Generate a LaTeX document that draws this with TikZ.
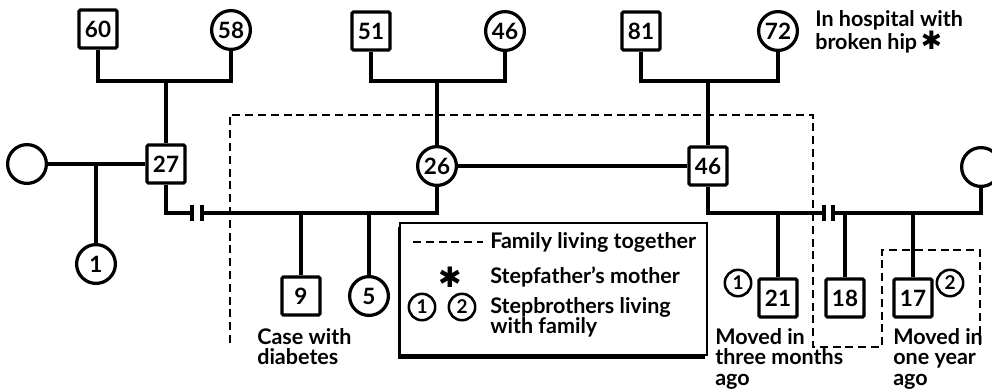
\documentclass[tikz,border=0pt]{standalone}
\usepackage{fontspec}
\setmainfont{Lato}
\newfontfamily\symfont{DejaVu Sans}
\usetikzlibrary{positioning,shadows}
\newcommand{\gfont}{\fontsize{15.3}{14.6}\selectfont\bfseries}
\newcommand{\numfont}{\fontsize{16}{16}\selectfont\bfseries}
\newcommand{\sibfont}{\fontsize{13.5}{13.5}\selectfont\bfseries}
\tikzset{
  person/.style    = {draw, line width=2.3pt, inner sep=0pt, font=\numfont},
  male/.style      = {person, rectangle, rounded corners=1pt, minimum size=0.95cm},
  female/.style    = {person, circle, minimum size=0.97cm},
  stepsib/.style   = {person, circle, minimum size=0.66cm, line width=1.8pt,
                      font=\sibfont},
  link/.style      = {line width=2.4pt},
  divmark/.style   = {line width=3pt},
  household/.style = {line width=1.9pt, dash pattern=on 0.2cm off 0.12cm},
  note/.style      = {anchor=north west, align=left, inner sep=0pt, font=\gfont},
  legtext/.style   = {anchor=west, align=left, inner sep=0pt, font=\gfont},
}
\begin{document}
\begin{tikzpicture}[x=0.025cm,y=-0.025cm]
  \useasboundingbox (0,0) rectangle (992,390);
  % grandparents
  \node[male]   (g60) at (98,29)  {60};
  \node[female] (g58) at (231,30) {58};
  \node[male]   (g51) at (371,31) {51};
  \node[female] (g46) at (505,31) {46};
  \node[male]   (g81) at (641,31) {81};
  \node[female] (g72) at (778,31) {72};
  % parents
  \node[female] (wL)  at (27,164)  {};
  \node[male]   (p27) at (166,164) {27};
  \node[female] (p26) at (437,166) {26};
  \node[male]   (p46) at (708,166) {46};
  \node[female] (wR)  at (981,167) {};
  % children
  \node[female] (s1)  at (96,264)  {1};
  \node[male]   (s9)  at (301,296) {9};
  \node[female] (s5)  at (369,296) {5};
  \node[male]   (s21) at (778,298) {21};
  \node[male]   (s18) at (845,298) {18};
  \node[male]   (s17) at (913,298) {17};
  \node[stepsib] (n1) at (738,283) {1};
  \node[stepsib] (n2) at (950,283) {2};
  % line junctions
  \coordinate (m1) at (166,81);
  \coordinate (m2) at (437,81);
  \coordinate (m3) at (708,81);
  \coordinate (d1) at (192,213);
  \coordinate (d2) at (202,213);
  \coordinate (d3) at (824,213);
  \coordinate (d4) at (833,213);
  % marriages and descent
  \draw[link] (g60.south) |- (m1) -| (g58.south);
  \draw[link] (g51.south) |- (m2) -| (g46.south);
  \draw[link] (g81.south) |- (m3) -| (g72.south);
  \draw[link] (m1) -- (p27.north);
  \draw[link] (m2) -- (p26.north);
  \draw[link] (m3) -- (p46.north);
  \draw[link] (wL) -- (p27);
  \draw[link] (s1.north) -- (s1.north |- wL);
  \draw[link] (p27.south) |- (d1);
  \draw[link] (d2) -| (p26.south);
  \draw[link] (p26) -- (p46);
  \draw[link] (p46.south) |- (d3);
  \draw[link] (d4) -| (wR.south);
  \foreach \k in {s9,s5} \draw[link] (\k.north) -- (\k.north |- d2);
  \draw[link] (s21.north) -- (s21.north |- d3);
  \foreach \k in {s18,s17} \draw[link] (\k.north) -- (\k.north |- d4);
  \foreach \d in {d1,d2,d3,d4}
    \draw[divmark] ([yshift=0.21cm]\d) -- ([yshift=-0.21cm]\d);
  % household boundary
  \draw[household] (230,343) -- (230,115) -- (813,115) -- (813,347)
    -- (882,347) -- (882,250) -- (980,250) -- (980,345);
  % notes
  \node[note] (tDiab) at (257,328) {Case with\\diabetes};
  \node[note] (tHosp) at (815,10)  {In hospital with\\broken hip\,{\symfont\fontsize{18}{14}\selectfont ✱}};
  \node[note] (t21)   at (715,328) {Moved in\\three months\\ago};
  \node[note] (t17)   at (893,328) {Moved in\\one year\\ago};
  % legend
  \node[draw, line width=1.6pt, fill=white, minimum width=7.67cm,
        minimum height=3.3cm, inner sep=0pt,
        drop shadow={shadow xshift=-0.05cm, shadow yshift=-0.1cm,
                     fill=black, opacity=1}] (legend) at (553.5,289) {};
  \coordinate (dashA) at (413,242);
  \coordinate (dashB) at (483,242);
  \draw[household] (dashA) -- (dashB);
  \node[legtext] (lFam)  at (490,242) {Family living together};
  \node[font=\symfont\fontsize{20}{20}\selectfont, inner sep=0pt] (lStar) at (450,277) {✱};
  \node[legtext] (lStep) at (490,277) {Stepfather’s mother};
  \node[stepsib] (l1) at (422,307) {1};
  \node[stepsib] (l2) at (462,307) {2};
  \node[legtext, anchor=north west] (lSib) at (490,297) {Stepbrothers living\\with family};
\end{tikzpicture}
\end{document}
